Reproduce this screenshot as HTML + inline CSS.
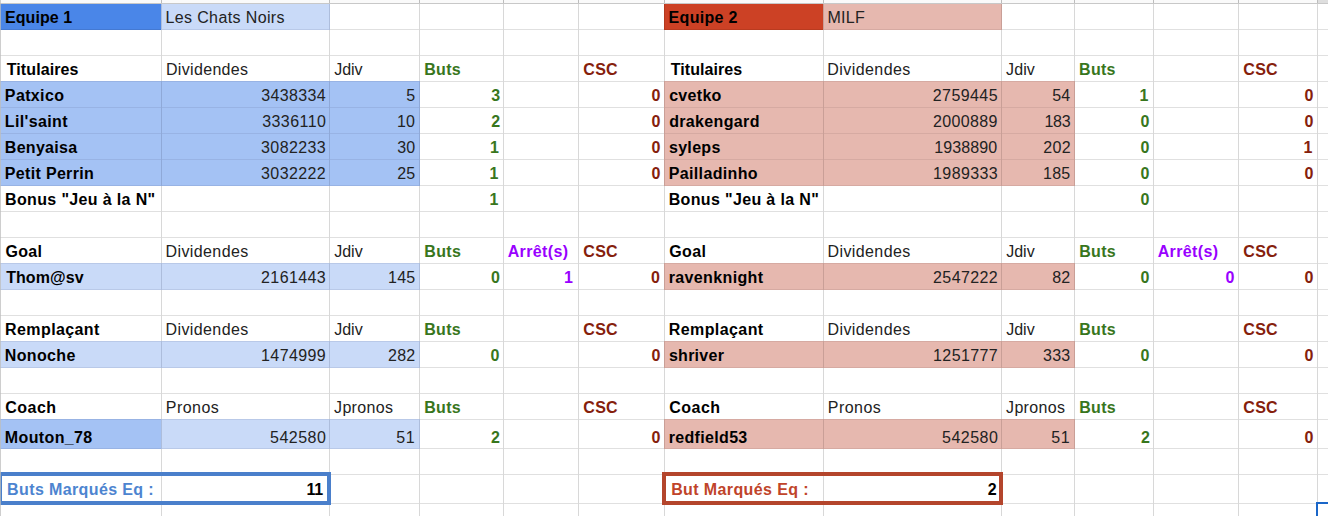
<!DOCTYPE html>
<html><head><meta charset="utf-8"><title>Feuille</title>
<style>
html,body{margin:0;padding:0;background:#fff;}
body{width:1328px;height:516px;position:relative;overflow:hidden;font-family:"Liberation Sans",sans-serif;font-size:16px;color:#000;}
.r{position:absolute;}
.t{position:absolute;height:18px;line-height:18px;white-space:nowrap;box-sizing:border-box;overflow:visible;color:#222;}
.b{font-weight:bold;color:#000;}

</style></head><body>
<div class="r" style="left:0px;top:0px;width:1328px;height:3px;background:#fafafa"></div>
<div class="r" style="left:1317px;top:0px;width:11px;height:3px;background:#dedede"></div>
<div class="r" style="left:0px;top:29px;width:1328px;height:1px;background:#e0e0e0"></div>
<div class="r" style="left:0px;top:55px;width:1328px;height:1px;background:#e0e0e0"></div>
<div class="r" style="left:0px;top:81px;width:1328px;height:1px;background:#e0e0e0"></div>
<div class="r" style="left:0px;top:107px;width:1328px;height:1px;background:#e0e0e0"></div>
<div class="r" style="left:0px;top:133px;width:1328px;height:1px;background:#e0e0e0"></div>
<div class="r" style="left:0px;top:159px;width:1328px;height:1px;background:#e0e0e0"></div>
<div class="r" style="left:0px;top:185px;width:1328px;height:1px;background:#e0e0e0"></div>
<div class="r" style="left:0px;top:211px;width:1328px;height:1px;background:#e0e0e0"></div>
<div class="r" style="left:0px;top:237px;width:1328px;height:1px;background:#e0e0e0"></div>
<div class="r" style="left:0px;top:263px;width:1328px;height:1px;background:#e0e0e0"></div>
<div class="r" style="left:0px;top:289px;width:1328px;height:1px;background:#e0e0e0"></div>
<div class="r" style="left:0px;top:315px;width:1328px;height:1px;background:#e0e0e0"></div>
<div class="r" style="left:0px;top:341px;width:1328px;height:1px;background:#e0e0e0"></div>
<div class="r" style="left:0px;top:367px;width:1328px;height:1px;background:#e0e0e0"></div>
<div class="r" style="left:0px;top:393px;width:1328px;height:1px;background:#e0e0e0"></div>
<div class="r" style="left:0px;top:419px;width:1328px;height:1px;background:#e0e0e0"></div>
<div class="r" style="left:0px;top:448px;width:1328px;height:1px;background:#e0e0e0"></div>
<div class="r" style="left:0px;top:474px;width:1328px;height:1px;background:#e0e0e0"></div>
<div class="r" style="left:0px;top:503px;width:1328px;height:1px;background:#e0e0e0"></div>
<div class="r" style="left:161px;top:4px;width:1px;height:512px;background:#d8d8d8"></div>
<div class="r" style="left:161px;top:0px;width:1px;height:3px;background:#bdbdbd"></div>
<div class="r" style="left:329px;top:4px;width:1px;height:512px;background:#d8d8d8"></div>
<div class="r" style="left:329px;top:0px;width:1px;height:3px;background:#bdbdbd"></div>
<div class="r" style="left:419px;top:4px;width:1px;height:512px;background:#d8d8d8"></div>
<div class="r" style="left:419px;top:0px;width:1px;height:3px;background:#bdbdbd"></div>
<div class="r" style="left:503px;top:4px;width:1px;height:512px;background:#d8d8d8"></div>
<div class="r" style="left:503px;top:0px;width:1px;height:3px;background:#bdbdbd"></div>
<div class="r" style="left:578px;top:4px;width:1px;height:512px;background:#d8d8d8"></div>
<div class="r" style="left:578px;top:0px;width:1px;height:3px;background:#bdbdbd"></div>
<div class="r" style="left:664px;top:4px;width:1px;height:512px;background:#d8d8d8"></div>
<div class="r" style="left:664px;top:0px;width:1px;height:3px;background:#bdbdbd"></div>
<div class="r" style="left:823px;top:4px;width:1px;height:512px;background:#d8d8d8"></div>
<div class="r" style="left:823px;top:0px;width:1px;height:3px;background:#bdbdbd"></div>
<div class="r" style="left:1001px;top:4px;width:1px;height:512px;background:#d8d8d8"></div>
<div class="r" style="left:1001px;top:0px;width:1px;height:3px;background:#bdbdbd"></div>
<div class="r" style="left:1074px;top:4px;width:1px;height:512px;background:#d8d8d8"></div>
<div class="r" style="left:1074px;top:0px;width:1px;height:3px;background:#bdbdbd"></div>
<div class="r" style="left:1153px;top:4px;width:1px;height:512px;background:#d8d8d8"></div>
<div class="r" style="left:1153px;top:0px;width:1px;height:3px;background:#bdbdbd"></div>
<div class="r" style="left:1238px;top:4px;width:1px;height:512px;background:#d8d8d8"></div>
<div class="r" style="left:1238px;top:0px;width:1px;height:3px;background:#bdbdbd"></div>
<div class="r" style="left:1317px;top:4px;width:1px;height:512px;background:#d8d8d8"></div>
<div class="r" style="left:1317px;top:0px;width:1px;height:3px;background:#bdbdbd"></div>
<div class="r" style="left:0px;top:3px;width:1328px;height:1px;background:#c8c8c8"></div>
<div class="r" style="left:0px;top:4px;width:162px;height:26px;background:#4a86e8"></div>
<div class="r" style="left:161px;top:4px;width:169px;height:26px;background:#c9daf8"></div>
<div class="r" style="left:664px;top:4px;width:160px;height:26px;background:#cc4125"></div>
<div class="r" style="left:823px;top:4px;width:179px;height:26px;background:#e6b8af"></div>
<div class="r" style="left:0px;top:81px;width:420px;height:105px;background:#a4c2f4"></div>
<div class="r" style="left:664px;top:81px;width:411px;height:105px;background:#e6b8af"></div>
<div class="r" style="left:0px;top:263px;width:420px;height:27px;background:#c9daf8"></div>
<div class="r" style="left:664px;top:263px;width:411px;height:27px;background:#e6b8af"></div>
<div class="r" style="left:0px;top:341px;width:420px;height:27px;background:#c9daf8"></div>
<div class="r" style="left:664px;top:341px;width:411px;height:27px;background:#e6b8af"></div>
<div class="r" style="left:0px;top:419px;width:162px;height:30px;background:#a4c2f4"></div>
<div class="r" style="left:161px;top:419px;width:259px;height:30px;background:#c9daf8"></div>
<div class="r" style="left:664px;top:419px;width:411px;height:30px;background:#e6b8af"></div>
<div class="r" style="left:0px;top:107px;width:420px;height:1px;background:#98b3e4"></div>
<div class="r" style="left:0px;top:133px;width:420px;height:1px;background:#98b3e4"></div>
<div class="r" style="left:0px;top:159px;width:420px;height:1px;background:#98b3e4"></div>
<div class="r" style="left:0px;top:185px;width:420px;height:1px;background:#98b3e4"></div>
<div class="r" style="left:0px;top:81px;width:420px;height:1px;background:#98b3e4"></div>
<div class="r" style="left:161px;top:81px;width:1px;height:105px;background:#8fa9d8"></div>
<div class="r" style="left:329px;top:81px;width:1px;height:105px;background:#8fa9d8"></div>
<div class="r" style="left:419px;top:81px;width:1px;height:105px;background:#8fa9d8"></div>
<div class="r" style="left:664px;top:107px;width:411px;height:1px;background:#d6aaa2"></div>
<div class="r" style="left:664px;top:133px;width:411px;height:1px;background:#d6aaa2"></div>
<div class="r" style="left:664px;top:159px;width:411px;height:1px;background:#d6aaa2"></div>
<div class="r" style="left:664px;top:185px;width:411px;height:1px;background:#d6aaa2"></div>
<div class="r" style="left:664px;top:81px;width:411px;height:1px;background:#d6aaa2"></div>
<div class="r" style="left:823px;top:81px;width:1px;height:105px;background:#c99f97"></div>
<div class="r" style="left:1001px;top:81px;width:1px;height:105px;background:#c99f97"></div>
<div class="r" style="left:1074px;top:81px;width:1px;height:105px;background:#c99f97"></div>
<div class="r" style="left:664px;top:81px;width:1px;height:105px;background:#c99f97"></div>
<div class="r" style="left:0px;top:29px;width:162px;height:1px;background:#4479d2"></div>
<div class="r" style="left:161px;top:4px;width:1px;height:26px;background:#4377cf"></div>
<div class="r" style="left:664px;top:29px;width:160px;height:1px;background:#b93b20"></div>
<div class="r" style="left:823px;top:4px;width:1px;height:26px;background:#b3391f"></div>
<div class="r" style="left:664px;top:4px;width:1px;height:26px;background:#b3391f"></div>
<div class="r" style="left:161px;top:29px;width:169px;height:1px;background:#b9c9e8"></div>
<div class="r" style="left:329px;top:4px;width:1px;height:26px;background:#adbddc"></div>
<div class="r" style="left:161px;top:4px;width:1px;height:26px;background:#adbddc"></div>
<div class="r" style="left:823px;top:29px;width:179px;height:1px;background:#d6aaa2"></div>
<div class="r" style="left:1001px;top:4px;width:1px;height:26px;background:#c99f97"></div>
<div class="r" style="left:823px;top:4px;width:1px;height:26px;background:#c99f97"></div>
<div class="r" style="left:0px;top:289px;width:420px;height:1px;background:#b9c9e8"></div>
<div class="r" style="left:0px;top:263px;width:420px;height:1px;background:#b9c9e8"></div>
<div class="r" style="left:161px;top:263px;width:1px;height:27px;background:#adbddc"></div>
<div class="r" style="left:329px;top:263px;width:1px;height:27px;background:#adbddc"></div>
<div class="r" style="left:419px;top:263px;width:1px;height:27px;background:#adbddc"></div>
<div class="r" style="left:664px;top:289px;width:411px;height:1px;background:#d6aaa2"></div>
<div class="r" style="left:664px;top:263px;width:411px;height:1px;background:#d6aaa2"></div>
<div class="r" style="left:823px;top:263px;width:1px;height:27px;background:#c99f97"></div>
<div class="r" style="left:1001px;top:263px;width:1px;height:27px;background:#c99f97"></div>
<div class="r" style="left:1074px;top:263px;width:1px;height:27px;background:#c99f97"></div>
<div class="r" style="left:664px;top:263px;width:1px;height:27px;background:#c99f97"></div>
<div class="r" style="left:0px;top:367px;width:420px;height:1px;background:#b9c9e8"></div>
<div class="r" style="left:0px;top:341px;width:420px;height:1px;background:#b9c9e8"></div>
<div class="r" style="left:161px;top:341px;width:1px;height:27px;background:#adbddc"></div>
<div class="r" style="left:329px;top:341px;width:1px;height:27px;background:#adbddc"></div>
<div class="r" style="left:419px;top:341px;width:1px;height:27px;background:#adbddc"></div>
<div class="r" style="left:664px;top:367px;width:411px;height:1px;background:#d6aaa2"></div>
<div class="r" style="left:664px;top:341px;width:411px;height:1px;background:#d6aaa2"></div>
<div class="r" style="left:823px;top:341px;width:1px;height:27px;background:#c99f97"></div>
<div class="r" style="left:1001px;top:341px;width:1px;height:27px;background:#c99f97"></div>
<div class="r" style="left:1074px;top:341px;width:1px;height:27px;background:#c99f97"></div>
<div class="r" style="left:664px;top:341px;width:1px;height:27px;background:#c99f97"></div>
<div class="r" style="left:0px;top:448px;width:162px;height:1px;background:#98b3e4"></div>
<div class="r" style="left:0px;top:419px;width:162px;height:1px;background:#98b3e4"></div>
<div class="r" style="left:161px;top:419px;width:1px;height:30px;background:#8fa9d8"></div>
<div class="r" style="left:161px;top:448px;width:259px;height:1px;background:#b9c9e8"></div>
<div class="r" style="left:161px;top:419px;width:259px;height:1px;background:#b9c9e8"></div>
<div class="r" style="left:329px;top:419px;width:1px;height:30px;background:#adbddc"></div>
<div class="r" style="left:419px;top:419px;width:1px;height:30px;background:#adbddc"></div>
<div class="r" style="left:161px;top:419px;width:1px;height:30px;background:#adbddc"></div>
<div class="r" style="left:664px;top:448px;width:411px;height:1px;background:#d6aaa2"></div>
<div class="r" style="left:664px;top:419px;width:411px;height:1px;background:#d6aaa2"></div>
<div class="r" style="left:823px;top:419px;width:1px;height:30px;background:#c99f97"></div>
<div class="r" style="left:1001px;top:419px;width:1px;height:30px;background:#c99f97"></div>
<div class="r" style="left:1074px;top:419px;width:1px;height:30px;background:#c99f97"></div>
<div class="r" style="left:664px;top:419px;width:1px;height:30px;background:#c99f97"></div>
<div class="t b" style="left:4.91px;top:8.5px;letter-spacing:0.09px;">Equipe 1</div>
<div class="t " style="left:165.43px;top:8.5px;letter-spacing:0.38px;">Les Chats Noirs</div>
<div class="t b" style="left:6.75px;top:60.5px;letter-spacing:0.09px;">Titulaires</div>
<div class="t " style="left:165.88px;top:60.5px;letter-spacing:0.34px;">Dividendes</div>
<div class="t " style="left:334.24px;top:60.5px;letter-spacing:-0.08px;">Jdiv</div>
<div class="t b" style="left:424.20px;top:60.5px;letter-spacing:0.33px;color:#38761d;">Buts</div>
<div class="t b csc" style="left:583.29px;top:60.5px;letter-spacing:0.30px;color:#85200c;">CSC</div>
<div class="t b" style="left:4.87px;top:86.5px;letter-spacing:0.36px;">Patxico</div>
<div class="t " style="right:1001.84px;top:86.5px;text-align:right;letter-spacing:0.39px;">3438334</div>
<div class="t " style="right:912.77px;top:86.5px;text-align:right;">5</div>
<div class="t b" style="right:827.88px;top:86.5px;text-align:right;color:#38761d;">3</div>
<div class="t b" style="right:667.61px;top:86.5px;text-align:right;color:#85200c;">0</div>
<div class="t b" style="left:4.87px;top:112.5px;letter-spacing:0.35px;">Lil'saint</div>
<div class="t " style="right:1001.73px;top:112.5px;text-align:right;letter-spacing:0.42px;">3336110</div>
<div class="t " style="right:912.71px;top:112.5px;text-align:right;letter-spacing:0.28px;">10</div>
<div class="t b" style="right:827.93px;top:112.5px;text-align:right;color:#38761d;">2</div>
<div class="t b" style="right:667.62px;top:112.5px;text-align:right;color:#85200c;">0</div>
<div class="t b" style="left:4.87px;top:138.5px;letter-spacing:0.28px;">Benyaisa</div>
<div class="t " style="right:1002.02px;top:138.5px;text-align:right;letter-spacing:0.37px;">3082233</div>
<div class="t " style="right:912.44px;top:138.5px;text-align:right;letter-spacing:0.31px;">30</div>
<div class="t b" style="right:829.16px;top:138.5px;text-align:right;color:#38761d;">1</div>
<div class="t b" style="right:667.62px;top:138.5px;text-align:right;color:#85200c;">0</div>
<div class="t b" style="left:4.87px;top:164.5px;letter-spacing:0.32px;">Petit Perrin</div>
<div class="t " style="right:1002.02px;top:164.5px;text-align:right;letter-spacing:0.37px;">3032222</div>
<div class="t " style="right:912.44px;top:164.5px;text-align:right;letter-spacing:0.31px;">25</div>
<div class="t b" style="right:829.65px;top:164.5px;text-align:right;color:#38761d;">1</div>
<div class="t b" style="right:667.62px;top:164.5px;text-align:right;color:#85200c;">0</div>
<div class="t b" style="left:5.08px;top:190.5px;letter-spacing:0.35px;">Bonus "Jeu &agrave; la N"</div>
<div class="t b" style="right:829.65px;top:190.5px;text-align:right;color:#38761d;">1</div>
<div class="t b" style="left:5.47px;top:242.5px;letter-spacing:0.27px;">Goal</div>
<div class="t " style="left:165.56px;top:242.5px;letter-spacing:0.39px;">Dividendes</div>
<div class="t " style="left:334.17px;top:242.5px;letter-spacing:0.01px;">Jdiv</div>
<div class="t b" style="left:424.28px;top:242.5px;letter-spacing:0.39px;color:#38761d;">Buts</div>
<div class="t b" style="left:507.64px;top:242.5px;letter-spacing:0.39px;color:#9900ff;">Arr&ecirc;t(s)</div>
<div class="t b csc" style="left:583.29px;top:242.5px;letter-spacing:0.30px;color:#85200c;">CSC</div>
<div class="t b" style="left:6.13px;top:268.5px;letter-spacing:0.09px;">Thom@sv</div>
<div class="t " style="right:1002.02px;top:268.5px;text-align:right;letter-spacing:0.37px;">2161443</div>
<div class="t " style="right:912.44px;top:268.5px;text-align:right;letter-spacing:0.31px;">145</div>
<div class="t b" style="right:828.09px;top:268.5px;text-align:right;color:#38761d;">0</div>
<div class="t b" style="right:755.14px;top:268.5px;text-align:right;color:#9900ff;">1</div>
<div class="t b" style="right:668.17px;top:268.5px;text-align:right;color:#85200c;">0</div>
<div class="t b" style="left:5.08px;top:320.5px;letter-spacing:0.40px;">Rempla&ccedil;ant</div>
<div class="t " style="left:165.56px;top:320.5px;letter-spacing:0.39px;">Dividendes</div>
<div class="t " style="left:334.17px;top:320.5px;letter-spacing:0.01px;">Jdiv</div>
<div class="t b" style="left:424.20px;top:320.5px;letter-spacing:0.33px;color:#38761d;">Buts</div>
<div class="t b csc" style="left:583.29px;top:320.5px;letter-spacing:0.30px;color:#85200c;">CSC</div>
<div class="t b" style="left:4.79px;top:346.5px;letter-spacing:0.35px;">Nonoche</div>
<div class="t " style="right:1002.02px;top:346.5px;text-align:right;letter-spacing:0.37px;">1474999</div>
<div class="t " style="right:912.44px;top:346.5px;text-align:right;letter-spacing:0.31px;">282</div>
<div class="t b" style="right:828.62px;top:346.5px;text-align:right;color:#38761d;">0</div>
<div class="t b" style="right:667.62px;top:346.5px;text-align:right;color:#85200c;">0</div>
<div class="t b" style="left:5.25px;top:398.5px;letter-spacing:0.47px;">Coach</div>
<div class="t " style="left:165.81px;top:398.5px;letter-spacing:0.45px;">Pronos</div>
<div class="t " style="left:334.09px;top:398.5px;letter-spacing:0.32px;">Jpronos</div>
<div class="t b" style="left:424.20px;top:398.5px;letter-spacing:0.33px;color:#38761d;">Buts</div>
<div class="t b csc" style="left:583.29px;top:398.5px;letter-spacing:0.30px;color:#85200c;">CSC</div>
<div class="t b" style="left:4.87px;top:428.5px;letter-spacing:0.36px;">Mouton_78</div>
<div class="t " style="right:1001.68px;top:428.5px;text-align:right;letter-spacing:0.48px;">542580</div>
<div class="t " style="right:912.44px;top:428.5px;text-align:right;letter-spacing:0.80px;">51</div>
<div class="t b" style="right:828.13px;top:428.5px;text-align:right;color:#38761d;">2</div>
<div class="t b" style="right:667.62px;top:428.5px;text-align:right;color:#85200c;">0</div>
<div class="t b" style="left:668.61px;top:8.5px;letter-spacing:0.31px;">Equipe 2</div>
<div class="t " style="left:827.41px;top:8.5px;letter-spacing:0.32px;">MILF</div>
<div class="t b" style="left:670.77px;top:60.5px;letter-spacing:0.05px;">Titulaires</div>
<div class="t " style="left:827.23px;top:60.5px;letter-spacing:0.44px;">Dividendes</div>
<div class="t " style="left:1006.09px;top:60.5px;letter-spacing:0.09px;">Jdiv</div>
<div class="t b" style="left:1079.12px;top:60.5px;letter-spacing:0.28px;color:#38761d;">Buts</div>
<div class="t b csc" style="left:1243.29px;top:60.5px;letter-spacing:0.30px;color:#85200c;">CSC</div>
<div class="t b" style="left:669.16px;top:86.5px;letter-spacing:0.30px;">cvetko</div>
<div class="t " style="right:330.00px;top:86.5px;text-align:right;letter-spacing:0.42px;">2759445</div>
<div class="t " style="right:257.47px;top:86.5px;text-align:right;letter-spacing:0.29px;">54</div>
<div class="t b" style="right:179.65px;top:86.5px;text-align:right;color:#38761d;">1</div>
<div class="t b" style="right:14.62px;top:86.5px;text-align:right;color:#85200c;">0</div>
<div class="t b" style="left:669.18px;top:112.5px;letter-spacing:0.35px;">drakengard</div>
<div class="t " style="right:330.09px;top:112.5px;text-align:right;letter-spacing:0.39px;">2000889</div>
<div class="t " style="right:257.75px;top:112.5px;text-align:right;letter-spacing:-0.29px;">183</div>
<div class="t b" style="right:178.62px;top:112.5px;text-align:right;color:#38761d;">0</div>
<div class="t b" style="right:14.62px;top:112.5px;text-align:right;color:#85200c;">0</div>
<div class="t b" style="left:668.95px;top:138.5px;letter-spacing:0.32px;">syleps</div>
<div class="t " style="right:330.79px;top:138.5px;text-align:right;letter-spacing:0.11px;">1938890</div>
<div class="t " style="right:256.84px;top:138.5px;text-align:right;letter-spacing:0.45px;">202</div>
<div class="t b" style="right:178.62px;top:138.5px;text-align:right;color:#38761d;">0</div>
<div class="t b" style="right:15.65px;top:138.5px;text-align:right;color:#85200c;">1</div>
<div class="t b" style="left:668.71px;top:164.5px;letter-spacing:0.36px;">Pailladinho</div>
<div class="t " style="right:330.02px;top:164.5px;text-align:right;letter-spacing:0.37px;">1989333</div>
<div class="t " style="right:257.44px;top:164.5px;text-align:right;letter-spacing:0.31px;">185</div>
<div class="t b" style="right:178.62px;top:164.5px;text-align:right;color:#38761d;">0</div>
<div class="t b" style="right:14.62px;top:164.5px;text-align:right;color:#85200c;">0</div>
<div class="t b" style="left:668.71px;top:190.5px;letter-spacing:0.35px;">Bonus "Jeu &agrave; la N"</div>
<div class="t b" style="right:178.62px;top:190.5px;text-align:right;color:#38761d;">0</div>
<div class="t b" style="left:669.30px;top:242.5px;letter-spacing:0.36px;">Goal</div>
<div class="t " style="left:827.56px;top:242.5px;letter-spacing:0.39px;">Dividendes</div>
<div class="t " style="left:1006.17px;top:242.5px;letter-spacing:0.01px;">Jdiv</div>
<div class="t b" style="left:1079.20px;top:242.5px;letter-spacing:0.33px;color:#38761d;">Buts</div>
<div class="t b" style="left:1157.64px;top:242.5px;letter-spacing:0.39px;color:#9900ff;">Arr&ecirc;t(s)</div>
<div class="t b csc" style="left:1243.29px;top:242.5px;letter-spacing:0.30px;color:#85200c;">CSC</div>
<div class="t b" style="left:668.71px;top:268.5px;letter-spacing:0.37px;">ravenknight</div>
<div class="t " style="right:330.02px;top:268.5px;text-align:right;letter-spacing:0.37px;">2547222</div>
<div class="t " style="right:257.44px;top:268.5px;text-align:right;letter-spacing:0.31px;">82</div>
<div class="t b" style="right:178.62px;top:268.5px;text-align:right;color:#38761d;">0</div>
<div class="t b" style="right:93.62px;top:268.5px;text-align:right;color:#9900ff;">0</div>
<div class="t b" style="right:14.62px;top:268.5px;text-align:right;color:#85200c;">0</div>
<div class="t b" style="left:668.71px;top:320.5px;letter-spacing:0.42px;">Rempla&ccedil;ant</div>
<div class="t " style="left:827.56px;top:320.5px;letter-spacing:0.39px;">Dividendes</div>
<div class="t " style="left:1006.17px;top:320.5px;letter-spacing:0.01px;">Jdiv</div>
<div class="t b" style="left:1079.20px;top:320.5px;letter-spacing:0.33px;color:#38761d;">Buts</div>
<div class="t b csc" style="left:1243.29px;top:320.5px;letter-spacing:0.30px;color:#85200c;">CSC</div>
<div class="t b" style="left:668.95px;top:346.5px;letter-spacing:0.26px;">shriver</div>
<div class="t " style="right:330.02px;top:346.5px;text-align:right;letter-spacing:0.37px;">1251777</div>
<div class="t " style="right:257.44px;top:346.5px;text-align:right;letter-spacing:0.31px;">333</div>
<div class="t b" style="right:178.62px;top:346.5px;text-align:right;color:#38761d;">0</div>
<div class="t b" style="right:14.62px;top:346.5px;text-align:right;color:#85200c;">0</div>
<div class="t b" style="left:669.30px;top:398.5px;letter-spacing:0.46px;">Coach</div>
<div class="t " style="left:827.81px;top:398.5px;letter-spacing:0.45px;">Pronos</div>
<div class="t " style="left:1006.09px;top:398.5px;letter-spacing:0.32px;">Jpronos</div>
<div class="t b" style="left:1079.20px;top:398.5px;letter-spacing:0.33px;color:#38761d;">Buts</div>
<div class="t b csc" style="left:1243.29px;top:398.5px;letter-spacing:0.30px;color:#85200c;">CSC</div>
<div class="t b" style="left:668.71px;top:428.5px;letter-spacing:0.33px;">redfield53</div>
<div class="t " style="right:329.68px;top:428.5px;text-align:right;letter-spacing:0.48px;">542580</div>
<div class="t " style="right:257.44px;top:428.5px;text-align:right;letter-spacing:0.80px;">51</div>
<div class="t b" style="right:178.13px;top:428.5px;text-align:right;color:#38761d;">2</div>
<div class="t b" style="right:14.62px;top:428.5px;text-align:right;color:#85200c;">0</div>
<div class="r" style="left:-2px;top:472px;width:325px;height:25px;border:4px solid #4a7fcb;background:#fff"></div>
<div class="r" style="left:662px;top:472px;width:333px;height:25px;border:4px solid #b4452c;background:#fff"></div>
<div class="r" style="left:161px;top:476px;width:1px;height:25px;background:#d8d8d8"></div>
<div class="r" style="left:823px;top:476px;width:1px;height:25px;background:#d8d8d8"></div>
<div class="t b" style="left:7.12px;top:480.5px;letter-spacing:0.38px;color:#4d84d0;">Buts Marqu&eacute;s Eq :</div>
<div class="t b" style="right:1005.18px;top:480.5px;text-align:right;letter-spacing:-0.30px;">11</div>
<div class="t b" style="left:671.18px;top:480.5px;letter-spacing:0.39px;color:#c0442a;">But Marqu&eacute;s Eq :</div>
<div class="t b" style="right:331.33px;top:480.5px;text-align:right;">2</div>
<div class="r" style="left:0;top:0;width:1px;height:516px;background:rgba(190,190,190,0.75)"></div>
<div class="r" style="left:1316px;top:502px;width:20px;height:20px;border:2px solid #1a66c8;"></div>
</body></html>
